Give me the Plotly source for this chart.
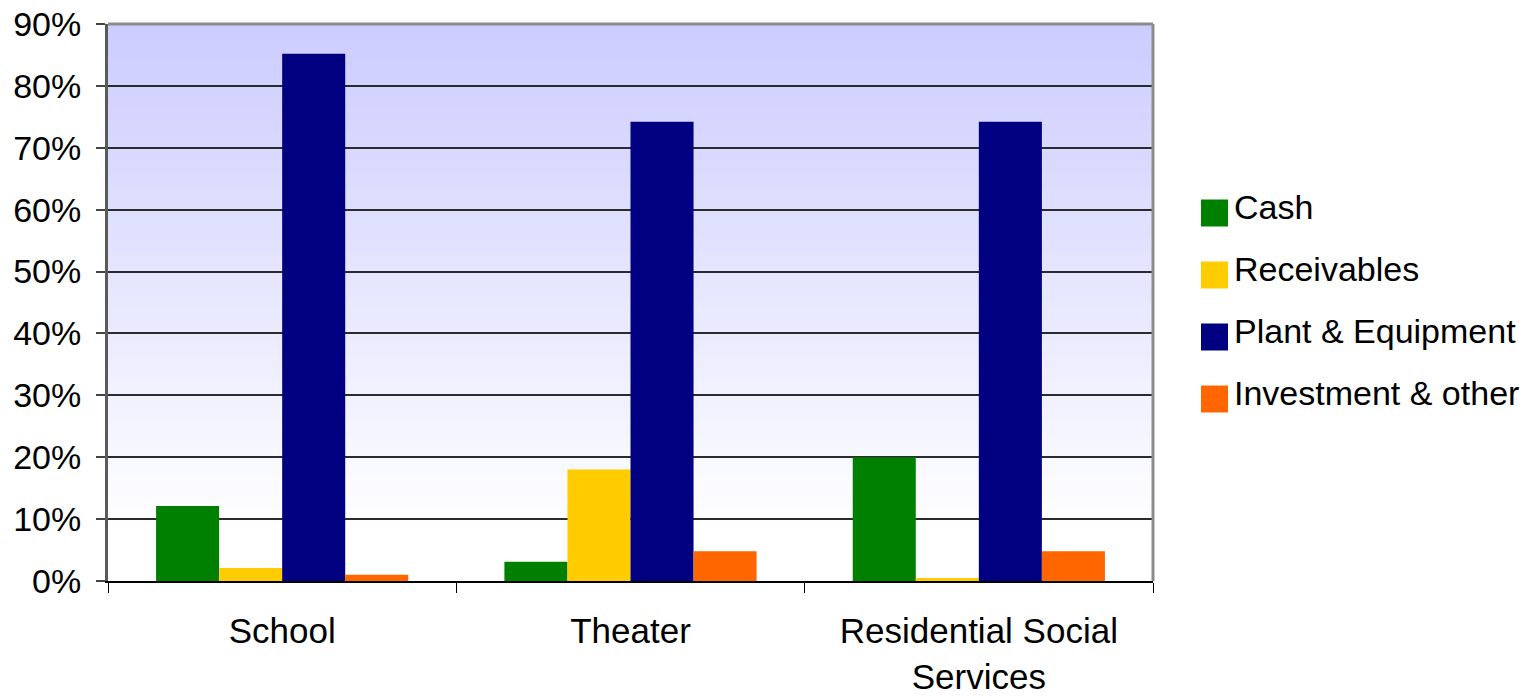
import plotly.graph_objects as go

# Asset mix by organisation type (share of total assets)
categories = ["School", "Theater", "Residential Social<br>Services"]
series_names = ["Cash", "Receivables", "Plant & Equipment", "Investment & other"]
cash = [0.121, 0.031, 0.200]
receivables = [0.021, 0.180, 0.005]
plant_equipment = [0.852, 0.742, 0.742]
investment_other = [0.010, 0.048, 0.048]
y_ticks = [0, 0.1, 0.2, 0.3, 0.4, 0.5, 0.6, 0.7, 0.8, 0.9]

colors = ["#008000", "#FFCC00", "#000080", "#FF6600"]
values = [cash, receivables, plant_equipment, investment_other]

FONT = "Liberation Sans, Arial, sans-serif"
W, H = 1540, 696
ML, MR, MT, MB = 108, 387, 24, 115
PW, PH = W - ML - MR, H - MT - MB

fig = go.Figure()
for name, vals, col in zip(series_names, values, colors):
    fig.add_trace(go.Bar(
        x=categories, y=vals, name=name,
        marker=dict(color=col, line=dict(width=0)),
        showlegend=False,
    ))

# Vertical lavender-to-white gradient behind the plot area
shapes = []
n_strips = 90
top, fade_end = 0.9, 0.08
for i in range(n_strips):
    y0 = fade_end + (top - fade_end) * i / n_strips
    y1 = fade_end + (top - fade_end) * (i + 1) / n_strips
    t = (i + 0.5) / n_strips  # 0 at bottom of gradient, 1 at top
    rg = round(255 - (255 - 204) * t)
    shapes.append(dict(
        type="rect", xref="x domain", yref="y",
        x0=0, x1=1, y0=y0, y1=y1 + 0.002,
        fillcolor=f"rgb({rg},{rg},255)", line=dict(width=0), layer="below",
    ))

# Frame: gray top and right edges
shapes.append(dict(type="line", xref="x domain", yref="y domain",
                   x0=0, x1=1, y0=1, y1=1,
                   line=dict(color="#8c8c8c", width=3), layer="above"))
shapes.append(dict(type="line", xref="x domain", yref="y domain",
                   x0=1, x1=1, y0=0, y1=1,
                   line=dict(color="#8c8c8c", width=3), layer="above"))


def px_to_paper_x(px):
    return (px - ML) / PW


def px_to_paper_y(py):
    return (H - MB - py) / PH


# Custom legend with large square swatches
legend_y = [213, 275, 337, 399]
annotations = []
for name, col, yy in zip(series_names, colors, legend_y):
    shapes.append(dict(
        type="rect", xref="paper", yref="paper",
        x0=px_to_paper_x(1201), x1=px_to_paper_x(1228),
        y0=px_to_paper_y(yy + 13.5), y1=px_to_paper_y(yy - 13.5),
        fillcolor=col, line=dict(width=0),
    ))
    annotations.append(dict(
        xref="paper", yref="paper",
        x=px_to_paper_x(1232), y=px_to_paper_y(yy - 6),
        text=name, showarrow=False, xanchor="left", yanchor="middle",
        font=dict(family=FONT, size=34, color="#000000"),
    ))

fig.update_layout(
    width=W, height=H,
    margin=dict(l=ML, r=MR, t=MT, b=MB),
    paper_bgcolor="white",
    plot_bgcolor="rgba(0,0,0,0)",
    barmode="group",
    bargap=0.276,
    bargroupgap=0,
    shapes=shapes,
    annotations=annotations,
    showlegend=False,
    font=dict(family=FONT, size=34, color="#000000"),
)

fig.update_xaxes(
    automargin=False,
    showgrid=False,
    showline=True, linecolor="#000000", linewidth=2,
    ticks="outside", ticklen=10, tickcolor="#000000", tickwidth=1,
    tickson="boundaries",
    tickfont=dict(family=FONT, size=35, color="#000000"),
    ticklabelstandoff=18,
)

fig.update_yaxes(
    automargin=False,
    range=[0, 0.9],
    tickvals=y_ticks,
    tickformat=".0%",
    showgrid=True, gridcolor="#2b2b2b", gridwidth=1.5,
    zeroline=False,
    showline=True, linecolor="#5a5a5a", linewidth=3,
    ticks="outside", ticklen=9, tickcolor="#444444", tickwidth=1.5,
    tickfont=dict(family=FONT, size=34, color="#000000"),
    ticklabelstandoff=8,
)

fig.write_html("out.html")
